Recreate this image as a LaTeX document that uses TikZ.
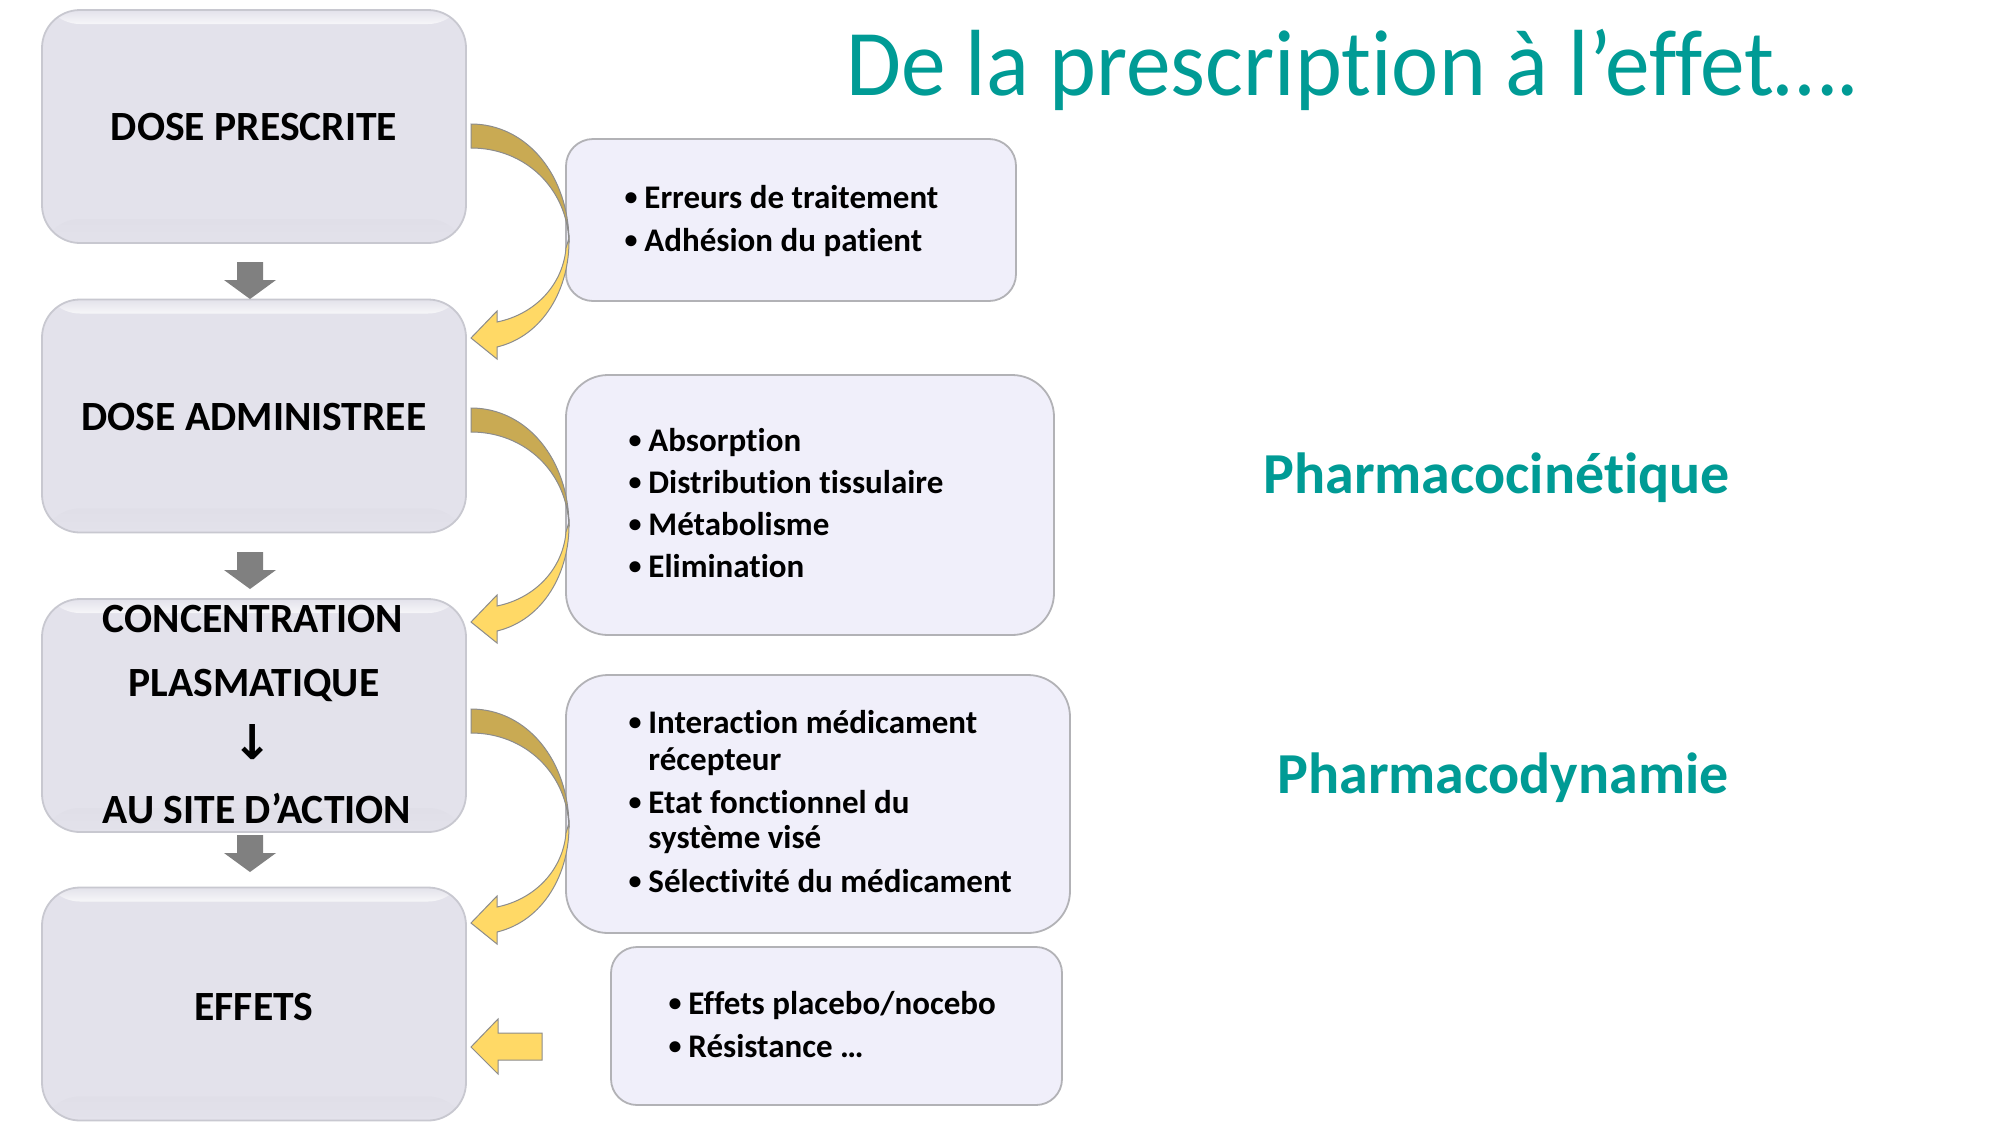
\documentclass[tikz,border=0pt]{standalone}
\usepackage{fontspec}
\setmainfont{Carlito}[Ligatures={TeX,NoCommon}]
\newfontfamily\titlefont{Carlito}[Ligatures={TeX,NoCommon},FakeStretch=0.95]
\newfontfamily\djv{DejaVu Sans}
\definecolor{teal1}{RGB}{0,155,149}
\definecolor{lboxfill}{RGB}{227,226,235}
\definecolor{lboxdark}{RGB}{196,195,204}
\definecolor{lboxline}{RGB}{200,200,208}
\definecolor{rboxfill}{RGB}{240,239,250}
\definecolor{rboxline}{RGB}{178,178,182}
\definecolor{darkgold}{RGB}{201,170,83}
\definecolor{lightyel}{RGB}{255,217,102}
\definecolor{outl}{RGB}{140,140,140}
\definecolor{grayarr}{RGB}{128,128,128}
\newcommand{\bul}{\makebox[10.5pt][l]{\hspace{0.6pt}\raisebox{1.4pt}{\fontsize{13}{13}\selectfont •}}}
\newcommand{\nobul}{\makebox[10.5pt][l]{}}
\begin{document}
\begin{tikzpicture}[x=0.5pt,y=-0.5pt,
  lbox/.style={draw=lboxline, line width=0.9pt, fill=lboxfill, rounded corners=19pt,
    minimum width=212pt, minimum height=116.5pt, inner sep=0pt,
    path picture={
      \shade[top color=lboxdark, bottom color=lboxfill]
        ([yshift=12pt]path picture bounding box.south west) rectangle (path picture bounding box.south east);
      \shade[top color=lboxfill, bottom color=white!70!lboxfill]
        (path picture bounding box.north west) rectangle ([yshift=-7pt]path picture bounding box.north east);
    }},
  lbtext/.style={font=\fontsize{20.8}{24}\selectfont\bfseries, anchor=base, inner sep=0pt},
  rbox/.style={draw=rboxline, line width=0.9pt, fill=rboxfill, inner sep=0pt},
  rtext/.style={font=\fontsize{16.5}{20}\selectfont\bfseries, anchor=base west, inner sep=0pt},
  ptext/.style={font=\fontsize{29}{32}\selectfont\bfseries, text=teal1, anchor=base west, inner sep=0pt},
  yelshape/.style={line width=0.5pt, draw=outl},
  curvarr/.pic={
    \filldraw[yelshape, fill=darkgold] (0,0) .. controls (56,0) and (98,52) .. (98,118)
      .. controls (96,64) and (54,24) .. (0,24) -- cycle;
    \filldraw[yelshape, fill=lightyel] (98,114) .. controls (99,165) and (72,212) .. (26,223)
      -- (26,235) -- (0,214) -- (26,187) -- (26,198)
      .. controls (65,190) and (92,160) .. (95,124) -- cycle;
  },
  downarr/.pic={
    \fill[grayarr] (-13,0) -- (13,0) -- (13,18) -- (26,18) -- (0,37) -- (-26,18) -- (-13,18) -- cycle;
  }
]
\useasboundingbox (0,0) rectangle (2000,1125);
\fill[white] (0,0) rectangle (2000,1125);

% title
\node[anchor=base west, inner sep=0pt, font=\titlefont\fontsize{47}{50}\selectfont, text=teal1] (title) at (846,95) {De la prescription à l’effet….};

% left boxes
\node[lbox] (b1) at (254,126.5) {};
\node[lbox] (b2) at (254,416) {};
\node[lbox] (b3) at (254,715.5) {};
\node[lbox] (b4) at (254,1004) {};

\node[lbtext] (t1) at (254,140) {DOSE PRESCRITE};
\node[lbtext] (t2) at (254,430) {DOSE ADMINISTREE};
\node[lbtext] (t3a) at (253,632) {CONCENTRATION};
\node[lbtext] (t3b) at (254,696) {PLASMATIQUE};
\node[anchor=base, inner sep=0pt, font=\djv\bfseries\fontsize{24}{26}\selectfont] (t3c) at (253,759) {↓};
\node[lbtext] (t3d) at (257,823) {AU SITE D’ACTION};
\node[lbtext] (t4) at (254,1020) {EFFETS};

% gray down arrows
\pic at (250,262) {downarr};
\pic at (250,552) {downarr};
\pic at (250,835) {downarr};

% right boxes
\node[rbox, rounded corners=13.5pt, minimum width=225pt, minimum height=81pt] (r1) at (791,220) {};
\node[rbox, rounded corners=21pt, minimum width=244pt, minimum height=130pt] (r2) at (810,505) {};
\node[rbox, rounded corners=21pt, minimum width=252pt, minimum height=129pt] (r3) at (818,804) {};
\node[rbox, rounded corners=13pt, minimum width=225.5pt, minimum height=79pt] (r4) at (836.5,1026) {};

% right box texts
\node[rtext] (r1a) at (623,208) {\bul Erreurs de traitement};
\node[rtext] (r1b) at (623,251) {\bul Adhésion du patient};

\node[rtext] (r2a) at (627,451) {\bul Absorption};
\node[rtext] (r2b) at (627,493) {\bul Distribution tissulaire};
\node[rtext] (r2c) at (627,535) {\bul Métabolisme};
\node[rtext] (r2d) at (627,577) {\bul Elimination};

\node[rtext] (r3a) at (627,733) {\bul Interaction médicament};
\node[rtext] (r3b) at (627,770) {\nobul récepteur};
\node[rtext] (r3c) at (627,813) {\bul Etat fonctionnel du};
\node[rtext] (r3d) at (627,848) {\nobul système visé};
\node[rtext] (r3e) at (627,892) {\bul Sélectivité du médicament};

\node[rtext] (r4a) at (667,1014) {\bul Effets placebo/nocebo};
\node[rtext] (r4b) at (667,1057) {\bul Résistance …};

% curved arrows
\pic at (471,124) {curvarr};
\pic at (471,408) {curvarr};
\pic at (471,709) {curvarr};

% straight arrow
\filldraw[yelshape, fill=lightyel] (471,1047) -- (498,1019) -- (498,1033) -- (542,1033)
  -- (542,1060) -- (498,1060) -- (498,1074) -- cycle;

% side labels
\node[ptext] (pk) at (1263,493) {Pharmacocinétique};
\node[ptext] (pd) at (1277,793) {Pharmacodynamie};
\end{tikzpicture}
\end{document}
